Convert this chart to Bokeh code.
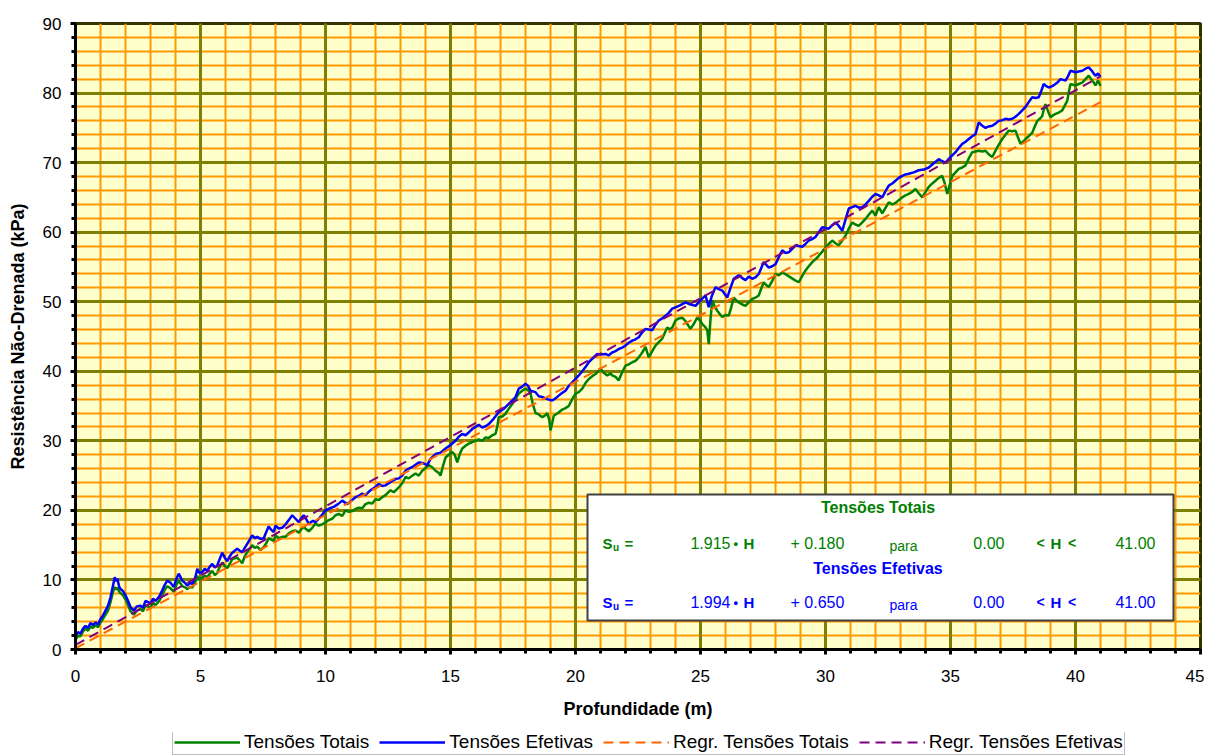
from bokeh.plotting import figure
from bokeh.layouts import column
from bokeh.models import (Range1d, SingleIntervalTicker, Grid, Legend, LegendItem,
                          BoxAnnotation, Label)
from bokeh.embed import file_html
from bokeh.resources import INLINE

# ---------------- data ----------------
efe_H = [0.0, 0.1, 0.2, 0.3, 0.4, 0.5, 0.6, 0.7, 0.8, 0.9, 1.0, 1.1, 1.2, 1.3, 1.4, 1.5, 1.57, 1.62, 1.67, 1.75,
         1.8, 1.9, 2.0, 2.1, 2.2, 2.33, 2.45, 2.6, 2.7, 2.8, 2.9, 3.0, 3.1, 3.2, 3.35, 3.47, 3.57, 3.67, 3.8, 3.93,
         4.05, 4.13, 4.27, 4.4, 4.47, 4.6, 4.67, 4.8, 4.87, 4.95, 5.07, 5.17, 5.27, 5.37, 5.47, 5.57, 5.67, 5.77,
         5.87, 5.97, 6.07, 6.17, 6.27, 6.37, 6.47, 6.57, 6.67, 6.77, 6.87, 6.97, 7.07, 7.17, 7.27, 7.4, 7.53, 7.63,
         7.73, 7.83, 7.93, 8.0, 8.13, 8.27, 8.4, 8.53, 8.67, 8.8, 8.93, 9.03, 9.13, 9.23, 9.33, 9.5, 9.6, 9.73,
         9.87, 10.0, 10.17, 10.33, 10.5, 10.67, 10.87, 11.0, 11.2, 11.33, 11.47, 11.6, 11.8, 11.97, 12.13, 12.27,
         12.4, 12.6, 12.8, 12.93, 13.07, 13.2, 13.33, 13.5, 13.73, 13.9, 14.07, 14.2, 14.4, 14.6, 14.8, 15.0, 15.2,
         15.33, 15.47, 15.6, 15.73, 15.87, 16.0, 16.13, 16.27, 16.4, 16.53, 16.73, 16.93, 17.13, 17.33, 17.47,
         17.6, 17.73, 17.87, 18.0, 18.1, 18.2, 18.4, 18.53, 18.67, 18.87, 19.07, 19.2, 19.33, 19.47, 19.6, 19.73,
         19.87, 20.0, 20.13, 20.27, 20.4, 20.53, 20.67, 20.87, 21.0, 21.2, 21.33, 21.47, 21.6, 21.73, 21.87, 22.0,
         22.13, 22.27, 22.4, 22.53, 22.67, 22.8, 22.93, 23.07, 23.2, 23.33, 23.47, 23.6, 23.73, 23.87, 24.0, 24.2,
         24.4, 24.6, 24.8, 25.0, 25.2, 25.33, 25.45, 25.6, 25.73, 25.87, 26.07, 26.2, 26.33, 26.53, 26.67, 26.8,
         26.93, 27.07, 27.2, 27.33, 27.53, 27.73, 27.87, 28.0, 28.13, 28.27, 28.4, 28.53, 28.67, 28.8, 28.93,
         29.07, 29.2, 29.33, 29.47, 29.6, 29.73, 29.87, 30.0, 30.13, 30.27, 30.4, 30.53, 30.67, 30.8, 30.93,
         31.07, 31.2, 31.33, 31.47, 31.6, 31.73, 31.87, 32.0, 32.13, 32.27, 32.4, 32.53, 32.67, 32.8, 32.93,
         33.07, 33.2, 33.33, 33.53, 33.73, 33.93, 34.13, 34.33, 34.53, 34.67, 34.8, 35.0, 35.2, 35.33, 35.47,
         35.6, 35.73, 35.87, 36.0, 36.13, 36.27, 36.4, 36.53, 36.67, 36.8, 36.93, 37.07, 37.2, 37.33, 37.47,
         37.6, 37.73, 37.87, 38.0, 38.13, 38.27, 38.4, 38.53, 38.63, 38.73, 38.83, 38.93, 39.07, 39.2, 39.3,
         39.4, 39.5, 39.6, 39.7, 39.8, 39.9, 40.0, 40.13, 40.27, 40.4, 40.53, 40.63, 40.73, 40.8, 40.9, 41.0]
efe_Su = [1.9, 2.5, 2.3, 3.0, 3.4, 3.1, 3.8, 3.5, 3.9, 3.6, 4.4, 4.9, 5.6, 6.3, 7.5, 9.2, 10.4, 9.8, 10.2, 9.0,
          8.7, 8.4, 7.8, 7.0, 6.1, 5.6, 6.2, 6.3, 6.0, 7.0, 6.8, 6.6, 7.3, 7.0, 7.6, 8.5, 9.3, 9.9, 9.6, 9.0,
          10.3, 10.9, 9.9, 9.5, 9.2, 9.6, 9.4, 10.5, 11.6, 11.0, 11.1, 11.6, 11.3, 11.9, 12.3, 11.8, 12.1, 13.0,
          13.9, 13.2, 12.7, 13.4, 13.9, 14.2, 14.5, 14.2, 14.0, 14.6, 15.2, 15.8, 16.4, 16.0, 16.2, 15.9, 16.0, 16.9,
          17.7, 17.2, 16.9, 17.8, 17.4, 17.5, 18.0, 18.6, 19.3, 18.8, 18.3, 18.9, 19.3, 18.7, 18.1, 18.5, 18.3, 18.8,
          19.4, 20.0, 20.3, 20.5, 20.9, 21.4, 20.9, 21.3, 21.9, 22.1, 22.4, 22.2, 22.9, 23.3, 23.8, 23.5,
          23.6, 24.1, 24.5, 24.6, 25.0, 25.7, 26.0, 26.3, 26.9, 26.8, 26.5, 27.4, 28.1, 28.3, 28.9, 29.4, 30.0,
          30.6, 31.0, 30.8, 31.2, 31.7, 32.0, 32.3, 31.9, 32.1, 32.4, 33.2, 34.1, 34.6, 35.3, 35.8,
          36.3, 37.5, 37.8, 38.2, 37.9, 37.2, 37.0, 36.4, 36.3, 36.0, 35.8, 36.1, 36.5, 36.9, 37.2, 37.9,
          38.4, 38.9, 39.4, 40.0, 40.6, 41.3, 41.8, 42.5, 42.4, 42.5, 42.3, 42.7, 42.9, 43.2, 43.4, 43.7,
          44.1, 44.4, 44.6, 44.9, 45.6, 46.1, 46.0, 45.9, 46.7, 47.3, 47.6, 48.0, 48.4, 49.0, 49.2, 49.5,
          49.9, 49.6, 49.4, 50.2, 50.9, 49.2, 50.8, 52.1, 51.8, 51.6, 50.6, 52.0, 53.3, 53.8, 53.4, 53.1,
          53.6, 53.3, 53.5, 54.0, 55.7, 54.9, 55.1, 55.4, 56.4, 57.4, 57.0, 57.1, 57.6, 58.1, 58.0,
          57.9, 58.3, 58.8, 59.0, 59.3, 60.0, 60.7, 60.6, 60.5, 61.0, 61.4, 60.9, 60.2, 61.8, 63.4,
          63.6, 63.8, 63.5, 63.6, 64.0, 64.5, 65.1, 65.5, 65.3, 65.0, 65.9, 66.7, 67.0, 67.4, 67.8,
          68.1, 68.3, 68.4, 68.6, 68.9, 69.0, 69.3, 69.9, 70.5, 70.2, 70.0, 70.8, 71.5, 72.1, 72.7,
          73.0, 73.4, 73.8, 74.1, 75.8, 75.3, 75.0, 75.2, 75.3, 75.6, 76.0, 76.1, 76.3, 76.2, 76.3,
          76.6, 77.0, 77.5, 78.0, 78.7, 79.4, 79.3, 79.4, 80.3, 81.3, 81.0, 80.8, 81.0, 81.3, 81.6,
          82.0, 81.9, 81.8, 82.4, 83.2, 83.1, 83.0, 83.1, 83.2, 83.5, 83.7, 83.3, 82.8, 82.5, 82.8, 82.3]

tot_H = [0.0, 0.1, 0.2, 0.3, 0.4, 0.5, 0.6, 0.7, 0.8, 0.9, 1.0, 1.1, 1.2, 1.3, 1.4, 1.5, 1.57, 1.62, 1.67, 1.75,
         1.8, 1.9, 2.0, 2.1, 2.2, 2.33, 2.45, 2.6, 2.7, 2.8, 2.9, 3.0, 3.1, 3.2, 3.35, 3.47, 3.57, 3.67, 3.8, 3.93,
         4.05, 4.13, 4.27, 4.4, 4.47, 4.6, 4.67, 4.8, 4.87, 4.95, 5.07, 5.17, 5.27, 5.37, 5.47, 5.57, 5.67, 5.77,
         5.87, 5.97, 6.07, 6.17, 6.27, 6.37, 6.47, 6.57, 6.67, 6.77, 6.87, 6.97, 7.07, 7.17, 7.27, 7.4, 7.53, 7.63,
         7.73, 7.83, 7.93, 8.0, 8.13, 8.27, 8.4, 8.53, 8.67, 8.8, 8.93, 9.03, 9.13, 9.23, 9.33, 9.47, 9.6, 9.73,
         9.87, 10.0, 10.13, 10.27, 10.4, 10.53, 10.67, 10.8, 10.93, 11.07, 11.2, 11.33, 11.47, 11.6, 11.73, 11.87,
         12.0, 12.13, 12.27, 12.4, 12.6, 12.73, 12.93, 13.07, 13.2, 13.33, 13.47, 13.6, 13.73, 13.87, 14.0, 14.13,
         14.27, 14.4, 14.53, 14.6, 14.7, 14.8, 14.93, 15.07, 15.17, 15.27, 15.37, 15.47, 15.6, 15.73, 15.87,
         16.0, 16.13, 16.27, 16.4, 16.53, 16.67, 16.8, 16.87, 16.93, 17.07, 17.2, 17.33, 17.47, 17.6, 17.73,
         17.87, 18.0, 18.1, 18.2, 18.3, 18.4, 18.53, 18.67, 18.8, 18.87, 18.95, 19.0, 19.07, 19.13, 19.3, 19.47,
         19.6, 19.73, 19.87, 20.0, 20.13, 20.27, 20.4, 20.53, 20.67, 20.8, 20.93, 21.0, 21.13, 21.27, 21.4,
         21.47, 21.6, 21.73, 21.87, 22.0, 22.13, 22.27, 22.4, 22.53, 22.67, 22.8, 22.93, 23.07, 23.2, 23.33,
         23.47, 23.57, 23.67, 23.77, 23.87, 24.0, 24.13, 24.27, 24.4, 24.6, 24.73, 24.87, 25.0, 25.07, 25.2,
         25.27, 25.33, 25.4, 25.47, 25.57, 25.67, 25.8, 25.87, 26.0, 26.13, 26.23, 26.33, 26.43, 26.53, 26.67,
         26.8, 26.93, 27.07, 27.2, 27.33, 27.43, 27.53, 27.63, 27.73, 27.87, 28.0, 28.13, 28.27, 28.43, 28.6,
         28.77, 28.93, 29.07, 29.2, 29.33, 29.47, 29.6, 29.73, 29.87, 30.0, 30.13, 30.27, 30.4, 30.53, 30.67,
         30.8, 30.93, 31.07, 31.2, 31.33, 31.47, 31.6, 31.73, 31.87, 32.0, 32.13, 32.27, 32.4, 32.53, 32.67,
         32.8, 32.93, 33.07, 33.2, 33.33, 33.47, 33.6, 33.73, 33.87, 34.0, 34.13, 34.27, 34.4, 34.53, 34.67,
         34.77, 34.87, 34.97, 35.07, 35.2, 35.33, 35.47, 35.6, 35.73, 35.87, 36.0, 36.13, 36.27, 36.4, 36.53,
         36.67, 36.77, 36.87, 36.97, 37.07, 37.2, 37.33, 37.47, 37.6, 37.7, 37.8, 37.9, 38.0, 38.13, 38.27,
         38.37, 38.47, 38.57, 38.67, 38.73, 38.8, 38.9, 39.0, 39.1, 39.2, 39.33, 39.47, 39.57, 39.67, 39.73,
         39.8, 39.9, 40.0, 40.13, 40.27, 40.4, 40.53, 40.63, 40.73, 40.8, 40.9, 41.0]
tot_Su = [1.4, 2.0, 1.9, 2.6, 3.0, 2.7, 3.3, 3.1, 3.5, 3.2, 3.9, 4.4, 5.0, 5.6, 6.8, 8.3, 9.0, 8.6, 8.9, 8.3,
          8.1, 7.8, 7.2, 6.4, 5.5, 5.0, 5.6, 5.8, 5.5, 6.4, 6.2, 6.0, 6.7, 6.4, 7.0, 7.8, 8.6, 9.1, 8.8, 8.3,
          9.4, 9.9, 9.1, 8.9, 8.7, 9.0, 8.9, 9.8, 10.6, 10.1, 10.3, 10.6, 10.4, 10.9, 11.3, 10.7, 11.0, 11.9,
          12.5, 12.0, 11.7, 12.3, 13.0, 13.1, 13.2, 12.8, 12.4, 13.4, 14.0, 14.5, 15.0, 14.6, 14.8, 14.3, 14.7, 15.3,
          16.0, 15.8, 15.6, 16.4, 16.0, 16.2, 16.2, 16.7, 17.0, 17.1, 16.8, 17.3, 17.6, 17.3, 17.0, 17.5, 18.1, 17.8,
          18.0, 18.3, 18.6, 18.8, 19.3, 19.5, 19.2, 20.0, 19.8, 19.9, 20.2, 20.4, 20.3, 20.9, 21.1, 21.0,
          21.6, 21.5, 21.9, 22.2, 22.9, 22.6, 23.3, 23.9, 24.8, 24.6, 25.0, 25.3, 25.0, 25.7, 26.1, 26.5,
          26.2, 25.7, 25.4, 25.0, 26.4, 27.6, 28.0, 28.4, 28.0, 26.9, 28.1, 28.9, 29.3, 29.6, 29.8,
          30.0, 30.2, 30.0, 30.5, 30.4, 30.8, 31.0, 32.0, 33.4, 33.5, 33.9, 34.6, 35.3, 36.0, 36.8,
          37.2, 37.5, 37.3, 36.8, 35.2, 34.0, 33.8, 33.4, 33.7, 34.0, 33.0, 31.5, 32.6, 33.6, 34.0, 34.5,
          34.7, 35.0, 36.0, 36.8, 37.0, 37.5, 38.3, 38.9, 39.3, 39.6, 40.1, 40.4, 39.8, 39.4, 39.7,
          39.4, 39.2, 38.7, 39.9, 40.8, 41.0, 41.3, 41.5, 42.0, 42.7, 43.5, 42.0, 42.9, 43.7, 44.2,
          44.7, 45.5, 46.3, 46.0, 46.3, 47.3, 47.6, 47.7, 47.2, 46.1, 46.8, 47.7, 47.2, 46.8, 46.3,
          45.9, 43.9, 47.5, 50.2, 49.3, 48.7, 48.1, 47.8, 48.1, 48.0, 49.2, 50.6, 50.2, 49.9, 49.6,
          49.4, 49.9, 50.4, 50.6, 50.9, 51.9, 52.8, 52.4, 52.1, 53.0, 54.0, 53.8, 54.2, 53.9, 53.5,
          53.1, 52.8, 53.7, 54.5, 55.1, 55.7, 56.1, 56.6, 57.2, 57.8, 58.3, 58.8, 58.4, 58.1, 58.8,
          59.5, 60.5, 61.4, 61.1, 60.9, 61.4, 61.9, 62.5, 63.1, 62.4, 63.6, 62.7, 63.5, 64.3, 64.0,
          64.2, 64.6, 65.0, 65.3, 65.5, 65.8, 66.2, 65.6, 65.0, 65.8, 66.5, 67.0, 67.4, 67.8, 68.1,
          67.0, 65.5, 66.8, 68.1, 68.6, 69.1, 69.3, 69.6, 70.6, 71.5, 71.6, 71.7, 71.6, 71.7, 71.2,
          70.8, 71.5, 72.2, 72.8, 73.4, 74.0, 74.6, 74.5, 74.6, 73.6, 72.7, 73.0, 73.4, 73.8, 74.3,
          75.2, 76.0, 76.3, 76.7, 77.6, 78.4, 77.4, 76.5, 76.8, 77.0, 77.2, 77.5, 78.2, 78.9, 80.1,
          81.3, 81.2, 81.1, 81.3, 81.5, 82.0, 82.5, 82.0, 81.5, 81.1, 81.8, 81.0]

reg_H = [0.0, 41.0]
reg_tot = [0.18, 78.70]   # 1.915*H + 0.180
reg_efe = [0.65, 82.40]   # 1.994*H + 0.650

series_labels = ["Tensões Totais", "Tensões Efetivas", "Regr. Tensões Totais", "Regr. Tensões Efetivas"]

FONT = "Liberation Sans"
GREEN = "#008000"
BLUE = "#0000FF"
ORANGE = "#FF6600"
PURPLE = "#800080"

# ---------------- main figure ----------------
xt = SingleIntervalTicker(interval=5, num_minor_ticks=5)
yt = SingleIntervalTicker(interval=10, num_minor_ticks=5)

p = figure(width=1204, height=732, output_backend="svg", toolbar_location=None,
           x_range=Range1d(0, 45), y_range=Range1d(0, 90),
           min_border_left=75, min_border_right=4, min_border_top=23, min_border_bottom=83)
p.background_fill_color = "#FFFFCC"
p.border_fill_color = "white"
p.outline_line_color = "#333300"
p.outline_line_width = 3

for ax, tk in ((p.xaxis[0], xt), (p.yaxis[0], yt)):
    ax.ticker = tk
    ax.axis_line_color = "black"
    ax.axis_line_width = 3
    ax.major_tick_line_color = "black"
    ax.major_tick_line_width = 3
    ax.major_tick_in = 0
    ax.major_tick_out = 5
    ax.minor_tick_line_color = "black"
    ax.minor_tick_line_width = 3
    ax.minor_tick_in = 0
    ax.minor_tick_out = 4
    ax.major_label_text_font = FONT
    ax.major_label_text_font_size = "17px"
    ax.major_label_text_color = "black"
    ax.axis_label_text_font = FONT
    ax.axis_label_text_font_size = "18px"
    ax.axis_label_text_font_style = "bold"
    ax.axis_label_text_color = "black"

p.xaxis.axis_label = "Profundidade (m)"
p.yaxis.axis_label = "Resistência Não-Drenada (kPa)"
p.xaxis.major_label_standoff = 15
p.yaxis.major_label_standoff = 9
p.xaxis.axis_label_standoff = 14
p.yaxis.axis_label_standoff = 12

# minor grid (orange) first, major grid (olive) on top
p.xgrid.ticker = xt
p.ygrid.ticker = yt
for g in (p.xgrid[0], p.ygrid[0]):
    g.grid_line_color = None
    g.minor_grid_line_color = "#FF9900"
    g.minor_grid_line_width = 2
for dim, tk in ((0, xt), (1, yt)):
    p.add_layout(Grid(dimension=dim, ticker=tk, grid_line_color="#808000", grid_line_width=3,
                      minor_grid_line_color=None))

# ---------------- series ----------------
line_styles = [dict(line_color=GREEN, line_width=2.5),
               dict(line_color=BLUE, line_width=2.5),
               dict(line_color=ORANGE, line_width=2, line_dash="10 6"),
               dict(line_color=PURPLE, line_width=2, line_dash="10 6")]
series_xy = [(tot_H, tot_Su), (efe_H, efe_Su), (reg_H, reg_tot), (reg_H, reg_efe)]
for (xs, ys), st in zip(series_xy, line_styles):
    p.line(xs, ys, **st)

# ---------------- equation box ----------------
p.add_layout(BoxAnnotation(left=20.48, right=43.92, bottom=4.17, top=22.28,
                           fill_color="white", fill_alpha=1.0,
                           line_color="#404040", line_width=2, line_alpha=1.0))


def lab(x, y, t, color, size="16px", style="normal", align="left"):
    p.add_layout(Label(x=x, y=y, text=t, text_color=color, text_font=FONT,
                       text_font_size=size, text_font_style=style,
                       text_align=align, text_baseline="middle"))


rows = [("Tensões Totais", GREEN, 20.41, 15.24, "1.915", "+ 0.180"),
        ("Tensões Efetivas", BLUE, 11.64, 6.76, "1.994", "+ 0.650")]
for title, col, yt_, ye, slope, icpt in rows:
    lab(32.1, yt_, title, col, "16px", "bold", "center")
    lab(21.08, ye, "S", col, "15px", "bold")
    lab(21.50, ye - 0.55, "u", col, "10px", "bold")
    lab(21.96, ye, "=", col, "15px", "bold")
    lab(26.2, ye, slope, col, "16px", "normal", "right")
    lab(26.32, ye, "•", col, "13px", "bold")
    lab(26.72, ye, "H", col, "15px", "bold")
    lab(28.6, ye, icpt, col, "16px")
    lab(32.56, ye - 0.3, "para", col, "14px")
    lab(37.16, ye, "0.00", col, "16px", "normal", "right")
    lab(38.44, ye, "<", col, "14px", "bold")
    lab(39.0, ye, "H", col, "15px", "bold")
    lab(39.7, ye, "<", col, "14px", "bold")
    lab(43.2, ye, "41.00", col, "16px", "normal", "right")

# ---------------- legend strip (own small figure under the chart) ----------------
q = figure(width=1204, height=24, output_backend="svg", toolbar_location=None,
           x_range=Range1d(100, 101), y_range=Range1d(100, 101),
           x_axis_location=None, y_axis_location=None, min_border=0)
q.grid.visible = False
q.outline_line_color = None
q.background_fill_color = "white"
q.border_fill_color = "white"
items = []
for (xs, ys), st, name in zip(series_xy, line_styles, series_labels):
    r = q.line(xs, ys, **st)
    items.append(LegendItem(label=name, renderers=[r]))
legend = Legend(items=items, orientation="horizontal", location=(97, 1))
legend.label_text_font = FONT
legend.label_text_font_size = "19px"
legend.label_text_color = "black"
legend.glyph_width = 66
legend.glyph_height = 16
legend.label_height = 16
legend.label_standoff = 4
legend.spacing = 10
legend.padding = 1
legend.margin = 0
legend.border_line_color = "#808080"
legend.border_line_width = 1
legend.background_fill_color = "white"
legend.background_fill_alpha = 1.0
q.add_layout(legend)

open("out.html", "w").write(file_html(column(p, q, spacing=0), INLINE))
